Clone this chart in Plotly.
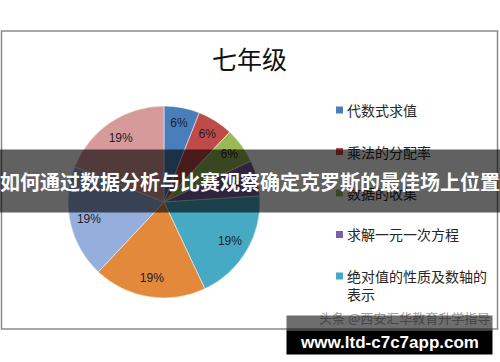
import plotly.graph_objects as go

# ---- data ----
categories = ["代数式求值", "乘法的分配率", "数据的收集", "求解一元一次方程",
              "绝对值的性质及数轴的表示", "有理数的运算", "整式的加减", "几何图形初步"]
shares = [6, 6, 6, 6, 19, 19, 19, 19]
colors = ["#4A7EBB", "#BE4B48", "#98B954", "#7D60A0",
          "#46AAC5", "#E3893C", "#95AEDB", "#D79A9B"]
legend_labels = ["代数式求值", "乘法的分配率", "数据的收集", "求解一元一次方程",
                 "绝对值的性质及数轴的<br>表示"]
title_text = "七年级"
banner_text = "如何通过数据分析与比赛观察确定克罗斯的最佳场上位置"
watermark_text = "头条 @西安汇华教育升学指导"
site_text = "www.ltd-c7c7app.com"

W, H = 500, 362


def px(x):
    return x / W


def py(y):
    return 1 - y / H


CJK = "Noto Sans CJK SC, Noto Sans, sans-serif"
pie_domain = dict(x=[px(68), px(260)], y=[py(298), py(106)])

# filled pie (no text)
fig = go.Figure(go.Pie(
    labels=categories, values=shares, sort=False, direction="clockwise", rotation=0,
    marker=dict(colors=colors, line=dict(color="rgba(255,255,255,0.5)", width=1)),
    textinfo="none", domain=pie_domain,
    showlegend=False, hoverinfo="label+percent",
))
# transparent ring on top, used only to place the percentage labels toward the rim
fig.add_trace(go.Pie(
    labels=categories, values=shares, sort=False, direction="clockwise", rotation=0,
    hole=0.6,
    marker=dict(colors=["rgba(0,0,0,0)"] * len(shares), line=dict(width=0)),
    texttemplate="%{percent:.0%}", textposition="inside",
    insidetextorientation="horizontal",
    textfont=dict(family="Liberation Sans, Arial, sans-serif", size=12, color="#1c1c2c"),
    domain=pie_domain, showlegend=False, hoverinfo="skip",
))

shapes = [dict(type="rect", xref="paper", yref="paper",
               x0=px(1.5), x1=px(497.5), y0=py(329), y1=py(31),
               line=dict(color="#8a8a8a", width=1.5), layer="below")]
annotations = [dict(text=title_text, xref="paper", yref="paper", x=px(249), y=py(58),
                    xanchor="center", yanchor="middle", showarrow=False,
                    font=dict(family=CJK, size=25, color="#111111"))]

# manual legend (only the first five entries are visible)
leg_top, leg_step = 107, 41.5
for i, lab in enumerate(legend_labels):
    yc = leg_top + i * leg_step
    shapes.append(dict(type="rect", xref="paper", yref="paper",
                       x0=px(336), x1=px(343), y0=py(yc + 6.5), y1=py(yc - 0.5),
                       fillcolor=colors[i], line=dict(width=0), layer="above"))
    annotations.append(dict(text=lab, xref="paper", yref="paper", x=px(345), y=py(yc - 9),
                            xanchor="left", yanchor="top", align="left", showarrow=False,
                            font=dict(family=CJK, size=14, color="#262626")))

# overlay banner
annotations.append(dict(text="<b>" + banner_text + "</b>", xref="paper", yref="paper",
                        x=0.5, y=py(181), xanchor="center", yanchor="middle",
                        width=500, height=62, borderpad=0, bgcolor="rgba(0,0,0,0.62)",
                        showarrow=False, font=dict(family=CJK, size=20, color="white")))
# watermark + site box
annotations.append(dict(text=watermark_text, xref="paper", yref="paper",
                        x=px(492), y=py(317), xanchor="right", yanchor="middle",
                        showarrow=False, font=dict(family=CJK, size=13, color="#a0a0a0")))
annotations.append(dict(text=" ", xref="paper", yref="paper", x=px(286), y=py(315),
                        xanchor="left", yanchor="top", width=205, height=15, borderpad=0,
                        bgcolor="rgba(0,0,0,0.57)", showarrow=False, font=dict(size=6)))
annotations.append(dict(text="<b>" + site_text + "</b>", xref="paper", yref="paper",
                        x=px(286), y=py(330), xanchor="left", yanchor="top",
                        width=205, height=23, borderpad=0, bgcolor="black",
                        showarrow=False,
                        font=dict(family="Liberation Sans, Arial, sans-serif", size=17,
                                  color="white")))

fig.update_layout(width=W, height=H, margin=dict(l=0, r=0, t=0, b=0),
                  paper_bgcolor="white", plot_bgcolor="white",
                  shapes=shapes, annotations=annotations)

fig.write_html("out.html")
